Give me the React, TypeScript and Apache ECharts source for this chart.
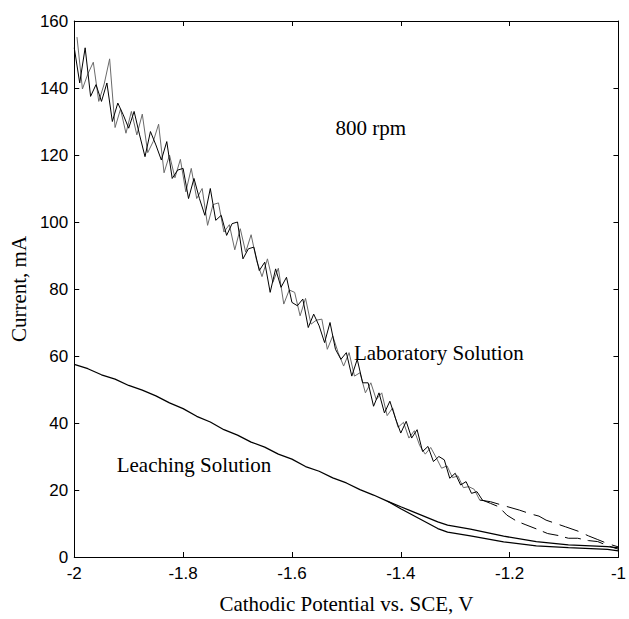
import React, { useEffect, useRef } from "react";
import * as echarts from "echarts";

// Laboratory solution, trace A (x = -2.00 .. -1.25 step 0.01)
const labAStart = -2.0;
const labAValues = [
  152, 141.5, 152, 137.5, 141, 136, 141.5, 130, 135.5, 132,
  128, 133, 126, 119.5, 127, 123, 118.5, 124, 113, 115.5,
  116, 107, 113, 107, 102, 110, 100.5, 102, 96, 99.5,
  100, 89, 92, 92.5, 85.5, 88, 79, 86, 80.5, 83.5,
  76, 75, 77, 68.5, 72.5, 69, 64, 70, 62, 59,
  61, 54, 59, 52, 52, 45, 49, 43, 46.5, 41.5,
  37, 40.5, 35.5, 38, 31.5, 33, 28.5, 30, 29, 23.5,
  25, 21.5, 22.5, 19, 19.5, 17,
];
// Laboratory solution, trace B (x = -1.995 .. -1.255 step 0.01)
const labBStart = -1.995;
const labBValues = [
  155.2, 139.7, 144.2, 147.7, 136, 141.2, 148.7, 128.2, 133.7, 126.5,
  133, 126, 132.2, 120.7, 124, 129.2, 114.7, 120, 113.2, 118.7,
  109, 116, 107, 110, 99, 105.2, 105.7, 97, 99.2, 91.7,
  98, 91, 96.2, 88.5, 83.7, 89, 82, 86.2, 75.5, 79.7,
  79, 72, 77.2, 69.5, 70.7, 71, 62, 66, 61, 57,
  61, 54, 55, 49, 52, 47, 49, 42.2, 44.5, 38.7,
  40.2, 35.5, 37.7, 33.2, 30.7, 32.7, 29.7, 26.5, 27.2, 23.7,
  24.2, 20.7, 21, 20.2, 17,
];
const labStep = 0.01;

// Tails of the laboratory curves (dashed)
const labTailLowerX = [-1.25, -1.235, -1.22, -1.205, -1.187, -1.17, -1.151, -1.13, -1.11, -1.092, -1.075, -1.055, -1.038, -1.02, -1.0];
const labTailLowerY = [17, 16, 15, 12.5, 10.7, 9.6, 8.4, 7, 6.4, 5.6, 5.6, 4.9, 4.6, 3.4, 2.3];
const labTailUpperX = [-1.255, -1.235, -1.21, -1.182, -1.16, -1.146, -1.133, -1.115, -1.097, -1.074, -1.055, -1.038, -1.02, -1.0];
const labTailUpperY = [17, 16.5, 15.3, 14, 12.8, 12.2, 11, 10, 9, 7.7, 6.3, 5.2, 4, 3];

// Leaching solution, common part
const leachX = [-2.0, -1.975, -1.95, -1.925, -1.9, -1.875, -1.85, -1.825, -1.8, -1.775, -1.75, -1.725, -1.7, -1.675, -1.65, -1.625, -1.6, -1.575, -1.55, -1.525, -1.5, -1.475, -1.45, -1.425];
const leachY = [57.5, 56.2, 54.4, 53.1, 51.2, 49.8, 48.1, 46.0, 44.3, 42.0, 40.3, 38.0, 36.4, 34.3, 32.8, 30.7, 29.2, 27.0, 25.6, 23.6, 22.1, 20.1, 18.5, 16.7];
// Leaching solution, two branches
const leachBranchX = [-1.4, -1.332, -1.314, -1.272, -1.211, -1.151, -1.092, -1.02, -1.0];
const leachUpperY = [15.0, 10.5, 9.5, 8.3, 6.2, 4.6, 3.6, 3.1, 2.7];
const leachLowerY = [14.4, 8.5, 7.4, 6.3, 4.5, 3.3, 2.8, 2.3, 1.8];

const xMin = -2;
const xMax = -1;
const xInterval = 0.2;
const yMin = 0;
const yMax = 160;
const yInterval = 20;

const annotations = [
  { text: "800 rpm", x: -1.52, y: 128 },
  { text: "Laboratory Solution", x: -1.486, y: 61 },
  { text: "Leaching Solution", x: -1.922, y: 27.5 },
];

function seq(start: number, step: number, values: number[]) {
  return values.map((v, i) => [Number((start + i * step).toFixed(4)), v]);
}
function zip(xs: number[], ys: number[]) {
  return xs.map((x, i) => [x, ys[i]]);
}

export default function App() {
  const ref = useRef<HTMLDivElement>(null);
  useEffect(() => {
    if (!ref.current) return;
    const chart = echarts.init(ref.current, undefined, { renderer: "svg" });
    const sans = "Liberation Sans";
    const serif = "Liberation Serif";
    const axisCommon = {
      type: "value" as const,
      axisLine: { show: true, onZero: false, lineStyle: { color: "#000", width: 1 } },
      axisTick: { show: true, inside: true, length: 5, lineStyle: { color: "#000" } },
      splitLine: { show: false },
    };
    const leachCommon = zip(leachX, leachY);
    const lastLeach = leachCommon[leachCommon.length - 1];
    const option: any = {
      animation: false,
      backgroundColor: "#fff",
      grid: { left: 69, right: 3, top: 21, bottom: 60, containLabel: false },
      xAxis: [
        {
          ...axisCommon,
          min: xMin,
          max: xMax,
          interval: xInterval,
          position: "bottom",
          name: "Cathodic Potential vs. SCE, V",
          nameLocation: "middle",
          nameGap: 36,
          nameTextStyle: { fontFamily: serif, fontSize: 21, color: "#000" },
          axisLabel: {
            show: true,
            margin: 8,
            color: "#000",
            fontFamily: sans,
            fontSize: 17,
            formatter: (v: number) => String(Number(v.toFixed(1))),
          },
        },
        {
          ...axisCommon,
          min: xMin,
          max: xMax,
          interval: xInterval,
          position: "top",
          axisLabel: { show: false },
        },
      ],
      yAxis: [
        {
          ...axisCommon,
          min: yMin,
          max: yMax,
          interval: yInterval,
          position: "left",
          name: "Current, mA",
          nameLocation: "middle",
          nameGap: 44,
          nameTextStyle: { fontFamily: serif, fontSize: 21, color: "#000" },
          axisLabel: { show: true, margin: 6, color: "#000", fontFamily: sans, fontSize: 17 },
        },
        {
          ...axisCommon,
          min: yMin,
          max: yMax,
          interval: yInterval,
          position: "right",
          axisLabel: { show: false },
        },
      ],
      series: [
        {
          name: "Laboratory Solution B",
          type: "line",
          data: seq(labBStart, labStep, labBValues),
          showSymbol: false,
          lineStyle: { color: "#6a6a6a", width: 1 },
        },
        {
          name: "Laboratory Solution A",
          type: "line",
          data: seq(labAStart, labStep, labAValues),
          showSymbol: false,
          lineStyle: { color: "#000", width: 1 },
        },
        {
          name: "Laboratory Solution tail lower",
          type: "line",
          data: zip(labTailLowerX, labTailLowerY),
          showSymbol: false,
          lineStyle: { color: "#000", width: 1, type: [16, 7] },
        },
        {
          name: "Laboratory Solution tail upper",
          type: "line",
          data: zip(labTailUpperX, labTailUpperY),
          showSymbol: false,
          lineStyle: { color: "#000", width: 1, type: [20, 8] },
        },
        {
          name: "Leaching Solution upper",
          type: "line",
          data: [...leachCommon, ...zip(leachBranchX, leachUpperY)],
          showSymbol: false,
          lineStyle: { color: "#000", width: 1.3 },
        },
        {
          name: "Leaching Solution lower",
          type: "line",
          data: [lastLeach, ...zip(leachBranchX, leachLowerY)],
          showSymbol: false,
          lineStyle: { color: "#000", width: 1.3 },
        },
      ],
    };
    chart.setOption(option);
    const graphics = annotations.map((a) => {
      const [px, py] = chart.convertToPixel({ xAxisIndex: 0, yAxisIndex: 0 }, [a.x, a.y]);
      return {
        type: "text",
        x: px,
        y: py,
        style: {
          text: a.text,
          font: `21px "${serif}"`,
          fill: "#000",
          verticalAlign: "middle",
          align: "left",
        },
      };
    });
    chart.setOption({ graphic: graphics });
    return () => chart.dispose();
  }, []);
  return (
    <div
      ref={ref}
      style={{ position: "fixed", left: 0, top: 0, width: 629, height: 619, background: "#fff" }}
    />
  );
}
